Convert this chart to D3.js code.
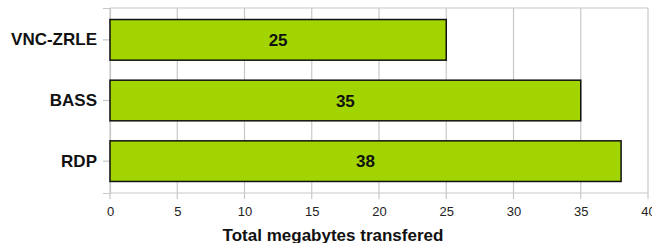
<!DOCTYPE html>
<html><head><meta charset="utf-8">
<script src="https://cdn.jsdelivr.net/npm/d3@7"></script>
<style>body{margin:0;background:#fff}svg{display:block}text{font-family:"Liberation Sans",Arial,sans-serif}</style>
</head><body>
<svg id="c" width="652" height="243"></svg>
<script>
const categories = ["VNC-ZRLE", "BASS", "RDP"];
const values = [25, 35, 38];
const xTicks = [0, 5, 10, 15, 20, 25, 30, 35, 40];
const xTitle = "Total megabytes transfered";

const svg = d3.select("#c");
const m = {l:110, r:648, t:8, b:193};
const x = d3.scaleLinear().domain([0, 40]).range([m.l, m.r]);
const y = d3.scaleBand().domain(categories).range([m.t, m.b]).paddingInner(0.33).paddingOuter(0.19);

// gridlines
svg.append("g").selectAll("line").data(xTicks).join("line")
  .attr("x1", d => x(d)).attr("x2", d => x(d)).attr("y1", m.t).attr("y2", m.b + 6)
  .attr("stroke", "#c8c8c8").attr("stroke-width", 1.2);
svg.append("line").attr("x1", m.l).attr("x2", m.r).attr("y1", m.t).attr("y2", m.t).attr("stroke", "#c8c8c8").attr("stroke-width", 1.2);
svg.append("line").attr("x1", m.l).attr("x2", m.r).attr("y1", m.b).attr("y2", m.b).attr("stroke", "#c8c8c8").attr("stroke-width", 1.2);

// y axis
const ya = svg.append("g").attr("transform", `translate(${m.l},0)`).call(d3.axisLeft(y).tickSize(7).tickPadding(6));
ya.select(".domain").attr("stroke", "#c8c8c8").attr("stroke-width", 1.2);
ya.selectAll(".tick line").attr("stroke", "#c8c8c8").attr("stroke-width", 1.2);
ya.selectAll(".tick text").attr("font-size", 17).attr("font-weight", "bold").attr("fill", "#111")
  .attr("font-family", '"Liberation Sans",Arial,sans-serif');

// x axis labels
const xa = svg.append("g").attr("transform", `translate(0,${m.b})`).call(d3.axisBottom(x).tickValues(xTicks).tickSize(0).tickPadding(14));
xa.select(".domain").remove();
xa.selectAll(".tick text").attr("font-size", 13).attr("fill", "#222")
  .attr("font-family", '"Liberation Sans",Arial,sans-serif');

// bars
svg.append("g").selectAll("rect").data(values).join("rect")
  .attr("x", x(0)).attr("y", (d, i) => y(categories[i]))
  .attr("width", d => x(d) - x(0)).attr("height", y.bandwidth())
  .attr("fill", "#a2d500").attr("stroke", "#111").attr("stroke-width", 1.5);

svg.append("g").selectAll("text").data(values).join("text")
  .attr("x", d => (x(0) + x(d)) / 2).attr("y", (d, i) => y(categories[i]) + y.bandwidth() / 2)
  .attr("dy", "0.36em").attr("text-anchor", "middle")
  .attr("font-size", 17).attr("font-weight", "bold").attr("fill", "#111")
  .text(d => d);

svg.append("text").attr("x", 333).attr("y", 241)
  .attr("text-anchor", "middle").attr("font-size", 17).attr("font-weight", "bold").attr("fill", "#111")
  .text(xTitle);
</script>
</body></html>
